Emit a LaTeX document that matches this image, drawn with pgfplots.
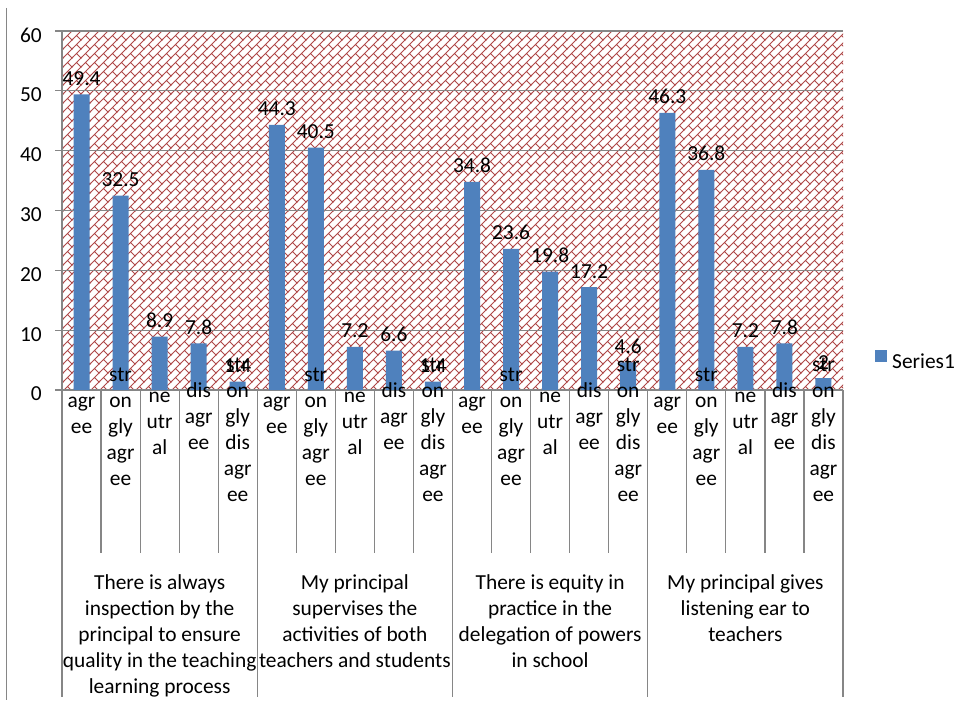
\documentclass[border=0pt]{standalone}
\usepackage{fontspec}
\setmainfont{Carlito}
\usepackage{pgfplots}
\pgfplotsset{compat=1.18}
\usetikzlibrary{patterns.meta}

\definecolor{barblue}{RGB}{79,129,189}
\definecolor{brick}{RGB}{175,72,72}
\definecolor{gridgray}{RGB}{134,134,134}

\newcommand\lf{\fontsize{21.4}{26}\selectfont}

\tikzset{
  cat/.style={anchor=north, align=center, inner sep=0pt, font=\lf, text=black},
  sep/.style={draw=gridgray, line width=1.2pt},
}

% diagonal brick fill of the plot area
\pgfdeclarepattern{
  name=diagbrick,
  type=uncolored,
  bottom left={\pgfpoint{-1pt}{-1pt}},
  top right={\pgfpoint{10pt}{10pt}},
  tile size={\pgfpoint{9pt}{9pt}},
  code={
    \pgfsetlinewidth{0.95pt}
    \pgfpathmoveto{\pgfpoint{-1pt}{-1pt}}
    \pgfpathlineto{\pgfpoint{10pt}{10pt}}
    \pgfpathmoveto{\pgfpoint{9.3pt}{-0.3pt}}
    \pgfpathlineto{\pgfpoint{4.5pt}{4.5pt}}
    \pgfusepath{stroke}
  }
}

\begin{document}
\begin{tikzpicture}
\begin{axis}[
  name=ax,
  scale only axis,
  width=781pt, height=359pt,
  xmin=-0.5, xmax=19.5, ymin=0, ymax=60,
  clip=false,
  axis lines=left,
  axis line style={-, draw=gridgray, line width=1.2pt},
  xtick=\empty,
  ytick={0,10,...,60},
  ymajorgrids,
  grid style={draw=gridgray, line width=1.2pt},
  tick style={draw=gridgray, line width=1.2pt},
  tick align=outside,
  major tick length=7pt,
  yticklabel style={font=\lf, inner sep=0pt, xshift=-13pt, yshift=-4pt},
  /pgf/number format/assume math mode=true,
  axis background/.style={pattern={diagbrick}, pattern color=brick},
  ybar, bar width=16pt,
  nodes near coords={\pgfmathprintnumber[fixed,precision=1]{\pgfplotspointmeta}},
  every node near coord/.append style={font=\lf, anchor=base, inner sep=0pt, yshift=9pt, text=black},
  legend style={draw=none, fill=none, at={(1,0)}, anchor=west, xshift=32pt, yshift=30pt,
    font=\lf, inner sep=0pt, column sep=5pt, nodes={inner sep=0pt}},
]
\addplot[fill=barblue, draw=none,
  legend image code/.code={\fill[barblue] (0pt,0.5pt) rectangle (12pt,12.5pt);}]
coordinates {
  (0,49.4) (1,32.5) (2,8.9) (3,7.8) (4,1.4)
  (5,44.3) (6,40.5) (7,7.2) (8,6.6) (9,1.4)
  (10,34.8) (11,23.6) (12,19.8) (13,17.2) (14,4.6)
  (15,46.3) (16,36.8) (17,7.2) (18,7.8) (19,2)
};
\addlegendentry{Series1}

\pgfplotsinvokeforeach{0,5,10,15}{
  \node[cat, yshift=1pt]  at (axis cs:#1,0)   {\strut agr\\ee};
  \node[cat, yshift=27pt] at (axis cs:#1+1,0) {\strut str\\on\\gly\\agr\\ee};
  \node[cat, yshift=6pt]  at (axis cs:#1+2,0) {\strut ne\\utr\\al};
  \node[cat, yshift=11pt] at (axis cs:#1+3,0) {\strut dis\\agr\\ee};
  \node[cat, yshift=37pt] at (axis cs:#1+4,0) {\strut str\\on\\gly\\dis\\agr\\ee};
  \draw[sep] (axis cs:#1+0.5,0) -- ++(0pt,-163pt);
  \draw[sep] (axis cs:#1+1.5,0) -- ++(0pt,-163pt);
  \draw[sep] (axis cs:#1+2.5,0) -- ++(0pt,-163pt);
  \draw[sep] (axis cs:#1+3.5,0) -- ++(0pt,-163pt);
  \draw[sep] (axis cs:#1-0.5,0) -- ++(0pt,-307pt);
}
\draw[sep] (axis cs:19.5,0) -- ++(0pt,-307pt);

\node[cat, yshift=-181.5pt] at (axis cs:2,0)
  {\strut There is always\\inspection by the\\principal to ensure\\quality in the teaching\\learning process};
\node[cat, yshift=-181.5pt] at (axis cs:7,0)
  {\strut My principal\\supervises the\\activities of both\\teachers and students};
\node[cat, yshift=-181.5pt] at (axis cs:12,0)
  {\strut There is equity in\\practice in the\\delegation of powers\\in school};
\node[cat, yshift=-181.5pt] at (axis cs:17,0)
  {\strut My principal gives\\listening ear to\\teachers};
\end{axis}

% left border of the chart area
\draw[draw=gridgray, line width=1pt] ([shift={(-55pt,382pt)}]ax.south west) -- ++(0pt,-692pt);

\pgfresetboundingbox
\path[use as bounding box] ([shift={(-62pt,-316pt)}]ax.south west) rectangle ++(964pt,706pt);
\end{tikzpicture}
\end{document}
